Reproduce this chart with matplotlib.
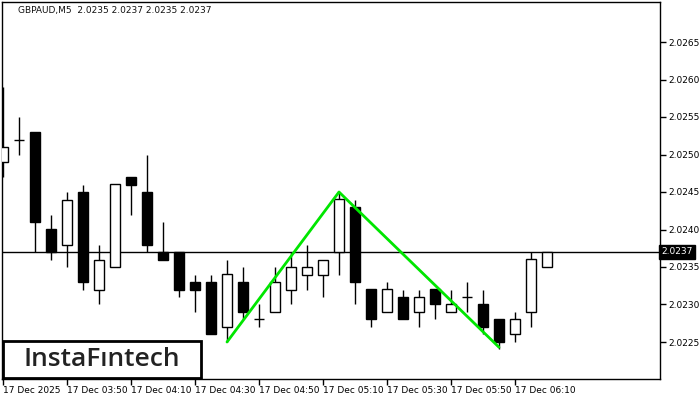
import matplotlib
matplotlib.use("Agg")
import matplotlib.pyplot as plt
from matplotlib.patches import Rectangle

# ---- data ----
opens  = [2.0249, 2.0252, 2.0253, 2.0240, 2.0238, 2.0245, 2.0232, 2.0235, 2.0247, 2.0245,
          2.0237, 2.0237, 2.0233, 2.0233, 2.0227, 2.0233, 2.0228, 2.0229, 2.0232, 2.0234,
          2.0234, 2.0237, 2.0243, 2.0232, 2.0229, 2.0231, 2.0229, 2.0232, 2.0229, 2.0231,
          2.0230, 2.0228, 2.0226, 2.0229, 2.0235]
highs  = [2.0259, 2.0255, 2.0253, 2.0242, 2.0245, 2.0246, 2.0238, 2.0246, 2.0247, 2.0250,
          2.0241, 2.0237, 2.0234, 2.0234, 2.0236, 2.0235, 2.0230, 2.0235, 2.0237, 2.0238,
          2.0236, 2.0245, 2.0244, 2.0232, 2.0233, 2.0232, 2.0232, 2.0232, 2.0232, 2.0233,
          2.0232, 2.0228, 2.0229, 2.0237, 2.0237]
lows   = [2.0247, 2.0250, 2.0237, 2.0236, 2.0235, 2.0232, 2.0230, 2.0235, 2.0242, 2.0237,
          2.0236, 2.0231, 2.0229, 2.0226, 2.0225, 2.0228, 2.0227, 2.0229, 2.0230, 2.0232,
          2.0231, 2.0234, 2.0230, 2.0227, 2.0229, 2.0228, 2.0227, 2.0228, 2.0229, 2.0229,
          2.0226, 2.0224, 2.0225, 2.0227, 2.0235]
closes = [2.0251, 2.0252, 2.0241, 2.0237, 2.0244, 2.0233, 2.0236, 2.0246, 2.0246, 2.0238,
          2.0236, 2.0232, 2.0232, 2.0226, 2.0234, 2.0229, 2.0228, 2.0233, 2.0235, 2.0235,
          2.0236, 2.0244, 2.0233, 2.0228, 2.0232, 2.0228, 2.0231, 2.0230, 2.0230, 2.0231,
          2.0227, 2.0225, 2.0228, 2.0236, 2.0237]

tick_idx = [0, 4, 8, 12, 16, 20, 24, 28, 32]
tick_labels = ["17 Dec 2025", "17 Dec 03:50", "17 Dec 04:10", "17 Dec 04:30", "17 Dec 04:50",
               "17 Dec 05:10", "17 Dec 05:30", "17 Dec 05:50", "17 Dec 06:10"]
price_ticks = [2.0225, 2.0230, 2.0235, 2.0240, 2.0245, 2.0250, 2.0255, 2.0260, 2.0265]

pattern_x = [14, 21, 31]
pattern_y = [2.0225, 2.0245, 2.02243]

current_price = 2.0237
title = "GBPAUD,M5  2.0235 2.0237 2.0235 2.0237"

# ---- figure ----
W, H = 700, 400
fig = plt.figure(figsize=(7, 4), dpi=100)
fig.patch.set_facecolor("white")
L, R, T, B = 2, 660, 2, 379
ax = fig.add_axes([L / W, (H - B) / H, (R - L) / W, (B - T) / H])
ax.set_facecolor("white")

xs = list(range(len(opens)))
bw = 0.66
for i in xs:
    o, h, l, c = opens[i], highs[i], lows[i], closes[i]
    ax.vlines(i, l, h, color="black", lw=1, zorder=2)
    if abs(c - o) < 1e-9:
        ax.hlines(o, i - bw / 2, i + bw / 2, color="black", lw=1, zorder=3)
    else:
        bottom = min(o, c)
        face = "white" if c > o else "black"
        ax.bar(i, abs(c - o), bottom=bottom, width=bw, color=face,
               edgecolor="black", linewidth=1, zorder=3)

ax.axhline(current_price, color="black", lw=1, zorder=1)
ax.plot(pattern_x, pattern_y, color="#00e600", lw=2, zorder=4, solid_capstyle="round")

px_per_unit = 16.0
ax.set_xlim(-1 / px_per_unit, (R - L - 1) / px_per_unit)
ppx = 0.0001 / 7.5
ax.set_ylim(2.0225 - (B - 342) * ppx, 2.0225 + (342 - T) * ppx)

ax.yaxis.tick_right()
ax.set_yticks(price_ticks)
ax.set_yticklabels([f"{p:.4f}" for p in price_ticks])
ax.set_xticks(tick_idx)
ax.set_xticklabels(tick_labels, ha="left")
ax.tick_params(axis="y", which="both", direction="out", length=4, width=1,
               labelsize=6.5, pad=2, right=True, left=False)
ax.tick_params(axis="x", direction="out", length=4, width=1, labelsize=6.5, pad=1)
for lab in ax.get_xticklabels():
    lab.set_horizontalalignment("left")
for s in ax.spines.values():
    s.set_linewidth(1)
    s.set_color("black")

# current price label
ax.text(1.0015, current_price, f"{current_price:.4f}", transform=ax.get_yaxis_transform(),
        ha="left", va="center", fontsize=6.5, color="white", zorder=10, clip_on=False,
        bbox=dict(boxstyle="square,pad=0.25", facecolor="black", edgecolor="black"))

# title
fig.text(18 / W, 1 - 11 / H, title, fontsize=6.5, ha="left", va="center", color="#111111")

# logo
fig.patches.append(Rectangle((3 / W, (H - 378) / H), 198 / W, 37 / H, transform=fig.transFigure,
                             facecolor="white", edgecolor="black", lw=2, zorder=20))
fig.text(102 / W, 1 - 359 / H, "InstaF\u0131ntech", fontsize=19, ha="center", va="center",
         color="#222222", family="Open Sans", weight="semibold", zorder=21)

fig.savefig("out.png", dpi=100)
